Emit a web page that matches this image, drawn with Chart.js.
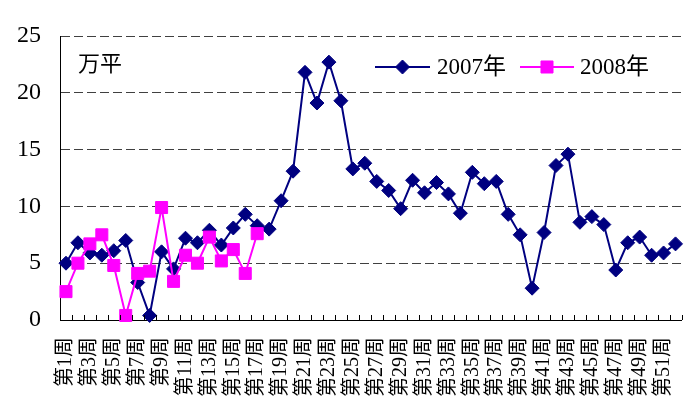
<!DOCTYPE html>
<html>
<head>
<meta charset="utf-8">
<script src="https://cdn.jsdelivr.net/npm/chart.js@4/dist/chart.umd.min.js"></script>
<style>
  html, body { margin: 0; padding: 0; background: #fff; }
  canvas { display: block; }
</style>
</head>
<body>
<canvas id="salesChart" width="691" height="399"></canvas>
<script>
// weekly sales area, unit: 万平
const weeks = ['第1周','第2周','第3周','第4周','第5周','第6周','第7周','第8周','第9周','第10周',
  '第11周','第12周','第13周','第14周','第15周','第16周','第17周','第18周','第19周','第20周',
  '第21周','第22周','第23周','第24周','第25周','第26周','第27周','第28周','第29周','第30周',
  '第31周','第32周','第33周','第34周','第35周','第36周','第37周','第38周','第39周','第40周',
  '第41周','第42周','第43周','第44周','第45周','第46周','第47周','第48周','第49周','第50周',
  '第51周','第52周'];

const sales2007 = [5.0, 6.8, 5.9, 5.7, 6.1, 7.0, 3.3, 0.4, 6.0, 4.5,
  7.2, 6.8, 7.9, 6.6, 8.1, 9.3, 8.3, 8.0, 10.5, 13.1,
  21.8, 19.1, 22.7, 19.3, 13.3, 13.8, 12.2, 11.4, 9.8, 12.3,
  11.2, 12.1, 11.1, 9.4, 13.0, 12.0, 12.2, 9.3, 7.5, 2.8,
  7.7, 13.6, 14.6, 8.6, 9.1, 8.4, 4.4, 6.8, 7.3, 5.7,
  5.9, 6.7];

const sales2008 = [2.5, 5.0, 6.7, 7.5, 4.8, 0.4, 4.1, 4.3, 9.9, 3.4,
  5.7, 5.0, 7.3, 5.2, 6.2, 4.1, 7.6];

const seriesNames = ['2007年', '2008年'];
const yMin = 0, yMax = 25, yStep = 5;
const unitLabel = '万平';

const NAVY = '#000080';
const MAGENTA = '#ff00ff';
const SERIF = "'Liberation Serif', 'Noto Sans CJK SC', serif";

// small tick marks pointing up into the plot, between categories
const innerTicks = {
  id: 'innerTicks',
  afterDraw(chart) {
    const xs = chart.scales.x, ctx = chart.ctx;
    const y0 = chart.chartArea.bottom;
    ctx.save();
    ctx.strokeStyle = '#000';
    ctx.lineWidth = 1;
    ctx.beginPath();
    for (let i = 0; i <= weeks.length; i++) {
      const px = Math.round(xs.getPixelForValue(i - 0.5)) + 0.5;
      ctx.moveTo(px, y0);
      ctx.lineTo(px, y0 - 5);
    }
    ctx.stroke();
    ctx.restore();
  }
};

// legend drawn as line + marker, plus the unit text
const overlay = {
  id: 'overlay',
  afterDraw(chart) {
    const ctx = chart.ctx;
    ctx.save();
    ctx.font = '22px ' + SERIF;
    ctx.fillStyle = '#000';
    ctx.textBaseline = 'middle';
    ctx.fillText(unitLabel, 78, 65);

    const items = [
      { ds: chart.data.datasets[0], x1: 375, x2: 430, tx: 437 },
      { ds: chart.data.datasets[1], x1: 520, x2: 574, tx: 580 },
    ];
    const ly = 67;
    items.forEach(it => {
      ctx.strokeStyle = it.ds.borderColor;
      ctx.lineWidth = 2;
      ctx.beginPath();
      ctx.moveTo(it.x1, ly);
      ctx.lineTo(it.x2, ly);
      ctx.stroke();
      ctx.fillStyle = it.ds.pointBackgroundColor;
      ctx.strokeStyle = it.ds.pointBorderColor;
      ctx.lineWidth = 1;
      Chart.helpers.drawPoint(ctx, {
        pointStyle: it.ds.pointStyle,
        radius: it.ds.pointRadius,
        borderWidth: 1,
        rotation: 0
      }, (it.x1 + it.x2) / 2, ly);
      ctx.fillStyle = '#000';
      ctx.font = '23px ' + SERIF;
      ctx.textBaseline = 'middle';
      ctx.fillText(it.ds.label, it.tx, ly + 1);
    });
    ctx.restore();
  }
};

new Chart(document.getElementById('salesChart').getContext('2d'), {
  type: 'line',
  data: {
    labels: weeks,
    datasets: [
      {
        label: seriesNames[0],
        data: sales2007,
        borderColor: NAVY, borderWidth: 2,
        pointStyle: 'rectRot', pointRadius: 7,
        pointBackgroundColor: NAVY, pointBorderColor: NAVY, pointBorderWidth: 1,
        tension: 0, clip: false, order: 1,
      },
      {
        label: seriesNames[1],
        data: sales2008,
        borderColor: MAGENTA, borderWidth: 2,
        pointStyle: 'rect', pointRadius: 8.5,
        pointBackgroundColor: MAGENTA, pointBorderColor: MAGENTA, pointBorderWidth: 1,
        tension: 0, clip: false, order: 0,
      },
    ]
  },
  options: {
    responsive: false,
    animation: false,
    layout: { padding: { top: 36, right: 8, left: 0, bottom: 0 } },
    plugins: {
      legend: { display: false },
      tooltip: { enabled: false },
    },
    scales: {
      x: {
        offset: true,
        grid: { display: false, drawTicks: false },
        border: { display: true, color: '#000', width: 1 },
        ticks: {
          autoSkip: false,
          minRotation: 90, maxRotation: 90,
          padding: 17,
          color: '#000',
          font: { family: SERIF, size: 20 },
          callback: (v, i) => (i % 2 === 0 ? weeks[i] : ''),
        },
        afterFit: s => { s.height = 79; s.paddingLeft = 0; s.paddingRight = 0; },
      },
      y: {
        min: yMin, max: yMax,
        grid: { color: '#404040', lineWidth: 1, drawTicks: false },
        border: { display: true, color: '#000', width: 1, dash: [9, 4] },
        ticks: {
          stepSize: yStep,
          padding: 19,
          color: '#000',
          font: { family: SERIF, size: 24 },
        },
        afterFit: s => { s.width = 60; },
      }
    }
  },
  plugins: [innerTicks, overlay]
});
</script>
</body>
</html>
